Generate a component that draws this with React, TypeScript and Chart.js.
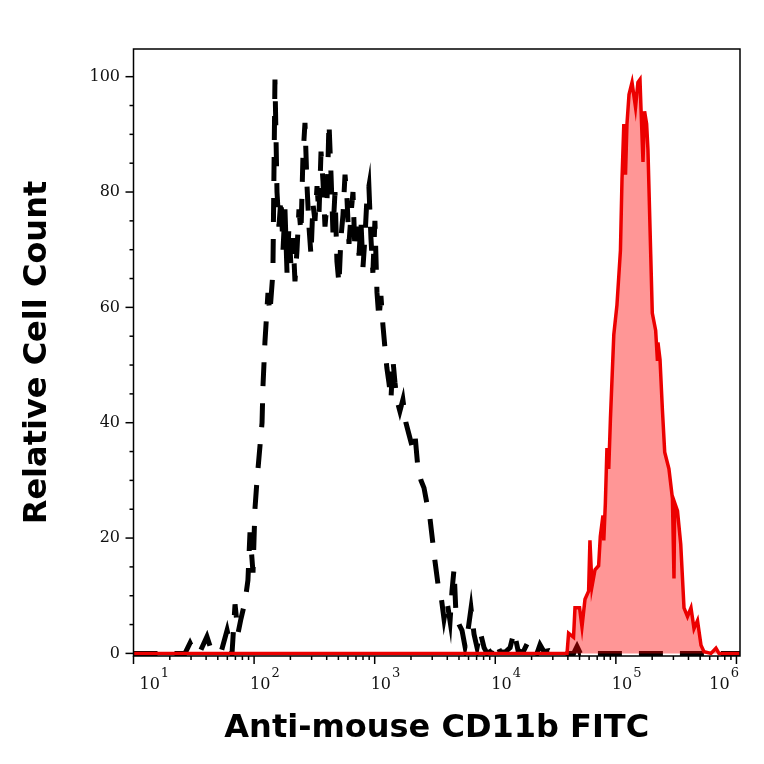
import { useEffect, useRef } from "react";
import { Chart, registerables } from "chart.js";

Chart.register(...registerables);

// axis ticks
const yTicks = [0, 20, 40, 60, 80, 100];
const xDecades = [1, 2, 3, 4, 5, 6];

// unstained / isotype control (black dashed) - x is log10(FITC)
const controlLog = [
  1.0, 1.427, 1.469, 1.51, 1.552, 1.609, 1.643, 1.676, 1.726, 1.776, 1.817, 1.842,
  1.867, 1.891, 1.925, 1.949, 1.966, 1.991, 2.007, 2.024, 2.049, 2.066, 2.073, 2.09,
  2.115, 2.131, 2.156, 2.173, 2.19, 2.206, 2.223, 2.24, 2.256, 2.273, 2.289, 2.306,
  2.323, 2.339, 2.356, 2.372, 2.389, 2.405, 2.422, 2.439, 2.455, 2.472, 2.488, 2.505,
  2.522, 2.538, 2.555, 2.571, 2.588, 2.604, 2.621, 2.638, 2.654, 2.671, 2.687, 2.704,
  2.72, 2.737, 2.754, 2.77, 2.787, 2.803, 2.82, 2.836, 2.853, 2.87, 2.886, 2.903,
  2.919, 2.936, 2.952, 2.969, 2.985, 3.002, 3.019, 3.035, 3.052, 3.068, 3.085, 3.101,
  3.118, 3.135, 3.151, 3.168, 3.184, 3.209, 3.234, 3.259, 3.284, 3.309, 3.334, 3.359,
  3.384, 3.409, 3.433, 3.458, 3.483, 3.5, 3.525, 3.55, 3.575, 3.6, 3.625, 3.641,
  3.658, 3.675, 3.7, 3.724, 3.749, 3.774, 3.799, 3.824, 3.849, 3.874, 3.907, 3.932,
  3.973, 4.007, 4.04, 4.081, 4.123, 4.156, 4.189, 4.23, 4.272, 4.305, 4.346, 4.371,
  4.404, 4.446, 4.495, 4.65, 4.678, 4.705, 6.029,
];
const controlCount = [
  0, 0, 1.8, 0, 0.3, 2.9, 0.7, 0.3, 0.2, 4, 0, 8.5,
  3.5, 6, 9, 12.7, 21, 14, 25, 30, 36, 40, 46, 54,
  62.5, 59, 66, 99.5, 80, 74, 79, 70, 77, 66, 74, 67,
  72, 64.5, 70, 77, 73, 86, 92, 81, 74, 69, 78, 75,
  81, 76, 87, 82, 74, 78, 92, 83, 73, 80, 68, 64,
  72, 76, 83, 79, 71, 76, 80, 70, 74, 69, 75, 67,
  72, 79, 81, 72, 66, 75, 62.6, 58, 62, 57, 53, 49.5,
  47, 44, 51, 47, 44, 42, 44, 40, 38, 36, 38, 32,
  30, 28.7, 26, 23.5, 19, 16, 12, 10, 6, 9, 5.6, 10.8,
  14.6, 6.4, 5, 4, 1.2, 4, 7.8, 3.3, 1, 3.8, 1, 0,
  0.5, 2, 0.3, 0.2, 1, 3.8, 0.5, 0.2, 2, 0.3, 0, 1.5,
  0.3, 0.5, 0, 0, 1.2, 0, 0,
];

// Anti-mouse CD11b FITC stained (red filled)
const stainedLog = [
  1.0, 4.595, 4.608, 4.649, 4.661, 4.699, 4.719, 4.744, 4.774, 4.785, 4.802, 4.827,
  4.857, 4.871, 4.893, 4.9, 4.913, 4.926, 4.941, 4.955, 4.983, 5.009, 5.038, 5.051,
  5.066, 5.08, 5.092, 5.109, 5.134, 5.163, 5.183, 5.2, 5.208, 5.225, 5.238, 5.255,
  5.266, 5.289, 5.302, 5.33, 5.344, 5.349, 5.366, 5.386, 5.405, 5.44, 5.469, 5.482,
  5.488, 5.511, 5.538, 5.565, 5.594, 5.623, 5.648, 5.677, 5.706, 5.731, 5.789, 5.83,
  5.855, 6.029,
];
const stainedCount = [
  0, 0, 3.5, 2.8, 7.9, 7.9, 4.6, 9.4, 10.8, 19.6, 11.6, 14.5,
  15.2, 20.3, 23.9, 19.6, 26.1, 35.6, 32, 40.7, 55.3, 60.4, 69.9, 82.3,
  91.8, 83, 91.8, 96.9, 99, 94.7, 99, 99.5, 94.7, 85.2, 94, 91.8,
  87.4, 69.2, 59, 56, 51, 53.9, 51, 42.2, 34.9, 32, 26.9, 13,
  26.1, 24.7, 18.9, 7.9, 6.4, 7.9, 4.3, 5.7, 1.4, 0.3, 0, 0.9,
  0, 0,
];

const framePlugin = {
  id: "frameAndLabels",
  afterDraw(chart: any) {
    const { ctx, chartArea: a, scales } = chart;
    const xs = scales.x;
    const ys = scales.y;
    ctx.save();
    ctx.strokeStyle = "#000";
    ctx.lineWidth = 1.5;
    ctx.strokeRect(a.left, a.top, a.right - a.left, a.bottom - a.top);

    // y tick marks (major every 20, minor every 5)
    for (let v = 0; v <= 100; v += 5) {
      const y = ys.getPixelForValue(v);
      const len = v % 20 === 0 ? 8 : 4;
      ctx.beginPath();
      ctx.moveTo(a.left - len, y);
      ctx.lineTo(a.left, y);
      ctx.stroke();
    }

    // x tick marks (log decades + minor)
    for (const n of [0, ...xDecades]) {
      for (let k = 1; k <= 9; k++) {
        const val = k * Math.pow(10, n);
        if (val < xs.min || val > xs.max) continue;
        const x = xs.getPixelForValue(val);
        const len = k === 1 ? 8 : 4;
        ctx.beginPath();
        ctx.moveTo(x, a.bottom);
        ctx.lineTo(x, a.bottom + len);
        ctx.stroke();
      }
    }

    // x tick labels 10^n
    ctx.fillStyle = "#111";
    ctx.textAlign = "left";
    ctx.textBaseline = "alphabetic";
    for (const n of xDecades) {
      const x = xs.getPixelForValue(Math.pow(10, n));
      ctx.font = "16px 'DejaVu Serif'";
      const w1 = ctx.measureText("10").width;
      ctx.font = "13px 'DejaVu Serif'";
      const w2 = ctx.measureText(String(n)).width;
      const total = w1 + 1 + w2;
      let left = Math.max(x - 4, a.left + 6);
      if (left + total > a.right - 1) left = a.right - 1 - total;
      ctx.font = "16px 'DejaVu Serif'";
      ctx.fillText("10", left, 689);
      ctx.font = "13px 'DejaVu Serif'";
      ctx.fillText(String(n), left + w1 + 1, 677);
    }

    // axis titles
    ctx.fillStyle = "#000";
    ctx.textAlign = "center";
    ctx.font = "bold 32px 'DejaVu Sans'";
    ctx.fillText("Anti-mouse CD11b FITC", (a.left + a.right) / 2, 737);
    ctx.translate(46, (a.top + a.bottom) / 2);
    ctx.rotate(-Math.PI / 2);
    ctx.fillText("Relative Cell Count", 0, 0);
    ctx.restore();
  },
};

const FlowHistogram = () => {
  const canvasRef = useRef<HTMLCanvasElement | null>(null);

  useEffect(() => {
    const ctx = canvasRef.current?.getContext("2d");
    if (!ctx) return;

    const stained = stainedLog.map((e, i) => ({ x: Math.pow(10, e), y: stainedCount[i] }));
    const control = controlLog.map((e, i) => ({ x: Math.pow(10, e), y: controlCount[i] }));

    const chart = new Chart(ctx, {
      type: "line",
      data: {
        datasets: [
          {
            label: "Anti-mouse CD11b FITC",
            data: stained,
            borderColor: "rgb(236, 0, 0)",
            backgroundColor: "rgba(255, 0, 0, 0.41)",
            borderWidth: 3.5,
            fill: "origin",
            pointRadius: 0,
            tension: 0,
          },
          {
            label: "Control",
            data: control,
            borderColor: "#000",
            borderWidth: 5,
            borderDash: [24, 17],
            borderJoinStyle: "miter",
            fill: false,
            pointRadius: 0,
            tension: 0,
          },
        ],
      },
      options: {
        animation: false,
        responsive: true,
        maintainAspectRatio: false,
        layout: { padding: { top: 49, right: 24, left: 0, bottom: 0 } },
        plugins: {
          legend: { display: false },
          tooltip: { enabled: false },
        },
        scales: {
          x: {
            type: "logarithmic",
            min: 10,
            max: 1.07e6,
            grid: { display: false, drawTicks: false },
            border: { display: false },
            ticks: { display: false },
            afterBuildTicks: (scale: any) => {
              scale.ticks = xDecades.map((n) => ({ value: Math.pow(10, n) }));
            },
            afterFit: (scale: any) => {
              scale.height = 108;
            },
          },
          y: {
            type: "linear",
            min: -0.45,
            max: 104.8,
            grid: { display: false, drawTicks: false },
            border: { display: false },
            ticks: {
              color: "#111",
              padding: 13.5,
              font: { family: "DejaVu Serif", size: 16 },
            },
            afterBuildTicks: (scale: any) => {
              scale.ticks = yTicks.map((v) => ({ value: v }));
            },
            afterFit: (scale: any) => {
              scale.width = 133.5;
            },
          },
        },
      },
      plugins: [framePlugin],
    });

    return () => {
      chart.destroy();
    };
  }, []);

  return (
    <div style={{ position: "absolute", left: 0, top: 0, width: 764, height: 764, background: "#fff" }}>
      <canvas ref={canvasRef}></canvas>
    </div>
  );
};

export default FlowHistogram;
